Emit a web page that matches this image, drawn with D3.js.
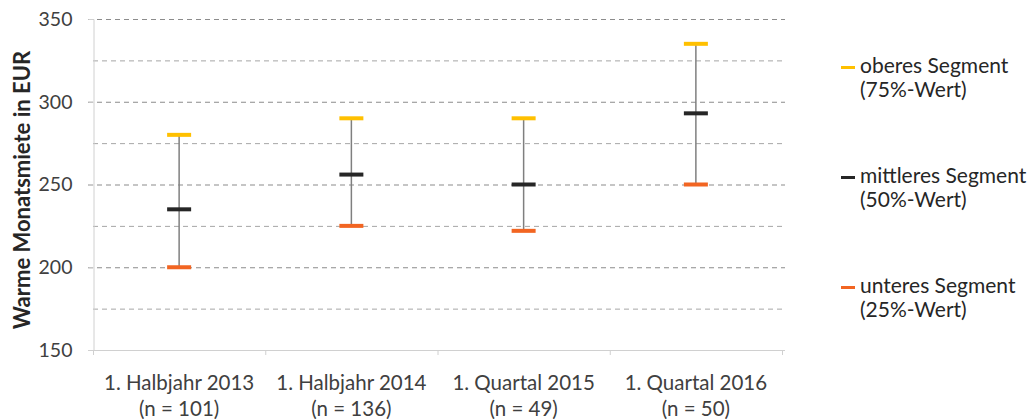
<!DOCTYPE html>
<html><head><meta charset="utf-8">
<script src="https://cdn.jsdelivr.net/npm/d3@7"></script>
<style>body{margin:0;background:#fff}svg{display:block}text{font-family:Lato,"Open Sans",sans-serif}</style>
</head><body><svg id="c" width="1033" height="419"></svg>
<script>
const categories = ["1. Halbjahr 2013", "1. Halbjahr 2014", "1. Quartal 2015", "1. Quartal 2016"];
const sampleSizes = ["(n = 101)", "(n = 136)", "(n = 49)", "(n = 50)"];
const upper = [280, 290, 290, 335];
const middle = [235, 256, 250, 293];
const lower = [200, 225, 222, 250];
const yTicks = [150, 200, 250, 300, 350];
const minorGrid = [175, 225, 275, 325];
const legendLabels = [["oberes Segment", "(75%-Wert)"], ["mittleres Segment", "(50%-Wert)"], ["unteres Segment", "(25%-Wert)"]];
const colors = ["#FFC000", "#262626", "#F26522"];

const svg = d3.select("#c");
const m = {l: 93, r: 782, t: 19, b: 350};
const x = d3.scaleBand().domain(categories).range([m.l, m.r]);
const y = d3.scaleLinear().domain([150, 350]).range([m.b, m.t]);

// grid
svg.append("g").selectAll("line").data(minorGrid).join("line")
  .attr("x1", m.l).attr("x2", m.r + 3).attr("y1", d => y(d) + 0.5).attr("y2", d => y(d) + 0.5)
  .attr("stroke", "#a6a6a6").attr("stroke-width", 1).attr("stroke-dasharray", "5,4");
svg.append("g").selectAll("line").data(yTicks.filter(d => d > 150)).join("line")
  .attr("x1", m.l - 5).attr("x2", m.r + 3).attr("y1", d => y(d) + 0.5).attr("y2", d => y(d) + 0.5)
  .attr("stroke", "#8c8c8c").attr("stroke-width", 1.2).attr("stroke-dasharray", "5,4");

// y axis
const ya = svg.append("g").attr("transform", `translate(${m.l + 0.5},0)`)
  .call(d3.axisLeft(y).tickValues(yTicks).tickSize(5).tickPadding(16));
ya.select(".domain").attr("stroke", "#d0d0d0");
ya.selectAll(".tick line").attr("stroke", "#d0d0d0");
ya.selectAll("text").attr("font-size", 19.5).attr("fill", "#404040").attr("font-family", "Lato, sans-serif");

// x axis
const xa = svg.append("g").attr("transform", `translate(0,${m.b + 0.5})`)
  .call(d3.axisBottom(x).tickSize(0).tickFormat(""));
xa.select(".domain").attr("stroke", "#d0d0d0").attr("d", `M${m.l - 5},0H${m.r + 3}`);
svg.append("g").selectAll("line").data(categories.map((c, i) => x(c)).concat([m.r])).join("line")
  .attr("x1", d => d + 0.5).attr("x2", d => d + 0.5).attr("y1", m.b).attr("y2", m.b + 5)
  .attr("stroke", "#d0d0d0");

const lab = svg.append("g");
categories.forEach((c, i) => {
  const cx = x(c) + x.bandwidth() / 2;
  lab.append("text").attr("x", cx).attr("y", 390).attr("text-anchor", "middle")
    .attr("font-size", 20.5).attr("fill", "#404040").text(c);
  lab.append("text").attr("x", cx).attr("y", 416).attr("text-anchor", "middle")
    .attr("font-size", 20.5).attr("fill", "#404040").text(sampleSizes[i]);
});

// y title
svg.append("text").attr("transform", `translate(30,190) rotate(-90)`)
  .attr("text-anchor", "middle").attr("font-size", 22).attr("font-weight", "bold")
  .attr("fill", "#262626").text("Warme Monatsmiete in EUR");

// whiskers
const g = svg.append("g");
g.selectAll("line.v").data(categories).join("line").attr("class", "v")
  .attr("x1", d => x(d) + x.bandwidth() / 2).attr("x2", d => x(d) + x.bandwidth() / 2)
  .attr("y1", (d, i) => y(upper[i])).attr("y2", (d, i) => y(lower[i]))
  .attr("stroke", "#7f7f7f").attr("stroke-width", 1.5);
[upper, middle, lower].forEach((vals, k) => {
  g.selectAll(null).data(categories).join("rect")
    .attr("x", d => x(d) + x.bandwidth() / 2 - 12).attr("width", 24)
    .attr("y", (d, i) => y(vals[i]) - 2).attr("height", 4)
    .attr("fill", colors[k]);
});

// legend
const ly = [73, 183, 293];
legendLabels.forEach((l, k) => {
  svg.append("rect").attr("x", 841).attr("y", ly[k] - 7).attr("width", 14).attr("height", 3).attr("fill", colors[k]);
  svg.append("text").attr("x", 860).attr("y", ly[k]).attr("font-size", 21).attr("fill", "#262626").text(l[0]);
  svg.append("text").attr("x", 860).attr("y", ly[k] + 24).attr("font-size", 21).attr("fill", "#262626").text(l[1]);
});
</script></body></html>
